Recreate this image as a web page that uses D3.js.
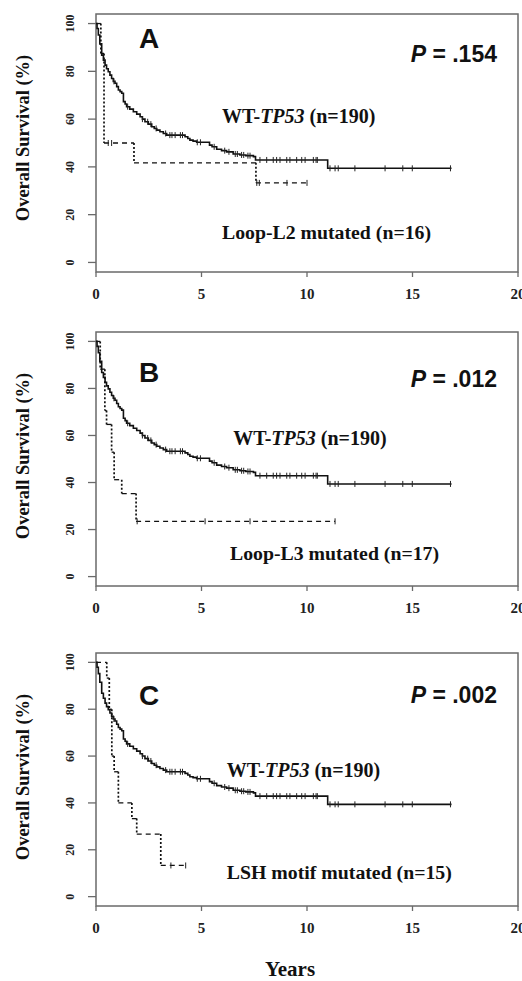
<!DOCTYPE html>
<html>
<head>
<meta charset="utf-8">
<script src="https://cdn.jsdelivr.net/npm/d3@7/dist/d3.min.js"></script>
<style>
  body { margin: 0; background: #fff; }
  .serif { font-family: "Liberation Serif", "Times New Roman", serif; font-weight: bold; }
  .sans { font-family: "Liberation Sans", Arial, sans-serif; font-weight: bold; }
</style>
</head>
<body>
<svg id="chart" width="522" height="981"></svg>
<script>
// WT-TP53 curve (same in the three panels): step times in years, survival in %
var wtTimes = [0, 0.05, 0.11, 0.18, 0.27, 0.35, 0.43, 0.5, 0.58, 0.66, 0.74, 0.82, 0.9, 0.98, 1.06, 1.14, 1.22, 1.3, 1.38, 1.45,
               1.6, 1.77, 1.93, 2.09, 2.2, 2.32, 2.48, 2.64, 2.76, 2.88, 3.03, 3.19, 3.35, 4.22, 4.35, 4.45, 4.6, 4.77, 5.38, 5.5,
               5.72, 5.95, 6.19, 6.5, 6.82, 7.1, 7.46, 7.56, 10.98];
var wtSurv  = [100, 97.9, 95.2, 91.5, 86.8, 84.7, 82.6, 81.1, 79.8, 78.4, 77, 75.8, 75, 73.6, 72.2, 71.5, 70.8, 67.3, 66.3, 65.2,
               64.2, 63.1, 62.1, 61, 60, 58.9, 57.9, 56.8, 56.1, 55.4, 54.7, 54, 53.3, 52.6, 51.9, 51.2, 50.8, 50.3, 49.1, 48.4,
               47.4, 46.8, 46.3, 45.4, 45, 44.7, 44.3, 42.9, 39.4];
var wtEnd = 16.85;
var wtCensor = [0.85, 1.5, 2.2, 2.45, 2.6, 2.85, 3.3, 3.5, 3.6, 3.75, 4.0, 4.1, 4.8, 4.95, 5.6, 6.1, 6.3, 6.6, 6.7, 6.9, 7.0, 7.2, 7.3,
                7.77, 8.09, 8.4, 8.56, 8.72, 9.04, 9.19, 9.51, 9.75, 9.91, 10.3, 10.43, 10.49,
                11.09, 11.33, 11.48, 12.27, 13.7, 14.54, 14.99, 16.8];

// mutated groups
var l2Times = [0, 0.23, 0.38, 1.8, 7.58];
var l2Surv  = [100, 87.5, 50, 41.7, 33.3];
var l2End = 10.0;
var l2Censor = [0.58, 0.74, 7.62, 7.74, 9.05, 10.0];

var l3Times = [0, 0.2, 0.42, 0.5, 0.74, 0.86, 1.22, 1.9];
var l3Surv  = [100, 88.2, 70.6, 64.7, 52.9, 41.2, 35.3, 23.5];
var l3End = 11.33;
var l3Censor = [1.95, 5.17, 7.3, 11.33];

var lshTimes = [0, 0.51, 0.63, 0.75, 0.86, 1.06, 1.7, 1.93, 3.07];
var lshSurv  = [100, 93.3, 80, 60, 53.3, 40, 33.3, 26.7, 13.3];
var lshEnd = 4.25;
var lshCensor = [3.55, 4.25];

var panelLetters = ["A", "B", "C"];
var pValues = [".154", ".012", ".002"];
var mutLabels = ["Loop-L2 mutated (n=16)", "Loop-L3 mutated (n=17)", "LSH motif mutated (n=15)"];
var xTicks = [0, 5, 10, 15, 20];
var yTicks = [0, 20, 40, 60, 80, 100];

var mutGroups = [
    { times: l2Times, surv: l2Surv, end: l2End, censor: l2Censor },
    { times: l3Times, surv: l3Surv, end: l3End, censor: l3Censor },
    { times: lshTimes, surv: lshSurv, end: lshEnd, censor: lshCensor }
];

// layout of each panel (pixels), and where the labels sit (data units)
var panels = [
    { top: 14, bottom: 272, letterY: 34, pY: 48, wtLab: [5.97, 58.3], mutLab: [5.97, 9.9] },
    { top: 332, bottom: 586, letterY: 50, pY: 55, wtLab: [6.5, 56], mutLab: [6.35, 7.1] },
    { top: 653, bottom: 906, letterY: 52, pY: 50, wtLab: [6.2, 51.1], mutLab: [6.2, 7.6] }
];

var svg = d3.select("#chart");
var left = 96, right = 518;
var x = d3.scaleLinear().domain([0, 20]).range([left, right]);

function stepSegments(times, surv, end) {
    var h = [], v = [];
    for (var i = 0; i < times.length; i++) {
        var t1 = i + 1 < times.length ? times[i + 1] : end;
        h.push([[times[i], surv[i]], [t1, surv[i]]]);
        if (i + 1 < times.length) v.push([[t1, surv[i]], [t1, surv[i + 1]]]);
    }
    return { h: h, v: v };
}

function survAt(times, surv, t) {
    var i = d3.bisectRight(times, t) - 1;
    return surv[Math.max(0, i)];
}

panels.forEach(function (p, k) {
    var y = d3.scaleLinear().domain([-4, 104]).range([p.bottom, p.top]);
    var g = svg.append("g");
    var line = d3.line().x(function (d) { return x(d[0]); }).y(function (d) { return y(d[1]); });

    // box
    g.append("rect")
        .attr("x", left).attr("y", p.top)
        .attr("width", right - left).attr("height", p.bottom - p.top)
        .attr("fill", "none").attr("stroke", "#6a6a6a").attr("stroke-width", 1.5);

    // y axis ticks + rotated labels
    g.selectAll("line.yt").data(yTicks).enter().append("line")
        .attr("x1", left - 8).attr("x2", left)
        .attr("y1", function (d) { return y(d); }).attr("y2", function (d) { return y(d); })
        .attr("stroke", "#6a6a6a").attr("stroke-width", 1.3);
    g.selectAll("text.yl").data(yTicks).enter().append("text")
        .attr("class", "serif")
        .attr("transform", function (d) { return "translate(74," + y(d) + ") rotate(-90)"; })
        .attr("text-anchor", "middle")
        .attr("font-size", 12)
        .attr("fill", "#222")
        .text(function (d) { return d; });

    // x axis ticks + labels
    g.selectAll("line.xt").data(xTicks).enter().append("line")
        .attr("x1", function (d) { return x(d); }).attr("x2", function (d) { return x(d); })
        .attr("y1", p.bottom).attr("y2", p.bottom + 5)
        .attr("stroke", "#6a6a6a").attr("stroke-width", 1.3);
    g.selectAll("text.xl").data(xTicks).enter().append("text")
        .attr("class", "serif")
        .attr("x", function (d) { return x(d); })
        .attr("y", p.bottom + 27)
        .attr("text-anchor", "middle")
        .attr("font-size", 15)
        .attr("fill", "#222")
        .text(function (d) { return d; });

    // y title
    g.append("text")
        .attr("class", "serif")
        .attr("transform", "translate(29," + (p.top + 124) + ") rotate(-90)")
        .attr("text-anchor", "middle")
        .attr("font-size", 18.5)
        .attr("fill", "#111")
        .text("Overall Survival (%)");

    // WT curve
    var wtPts = wtTimes.map(function (t, i) { return [t, wtSurv[i]]; });
    wtPts.push([wtEnd, wtSurv[wtSurv.length - 1]]);
    g.append("path").datum(wtPts)
        .attr("d", line.curve(d3.curveStepAfter))
        .attr("fill", "none").attr("stroke", "#111").attr("stroke-width", 1.6);
    g.selectAll("line.wc").data(wtCensor).enter().append("line")
        .attr("x1", function (d) { return x(d); }).attr("x2", function (d) { return x(d); })
        .attr("y1", function (d) { return y(survAt(wtTimes, wtSurv, d)) - 3; })
        .attr("y2", function (d) { return y(survAt(wtTimes, wtSurv, d)) + 3; })
        .attr("stroke", "#222").attr("stroke-width", 1);

    // mutated curve, dashed
    var m = mutGroups[k];
    var segs = stepSegments(m.times, m.surv, m.end);
    var plain = d3.line().x(function (d) { return x(d[0]); }).y(function (d) { return y(d[1]); });
    g.selectAll("path.mh").data(segs.h).enter().append("path")
        .attr("d", plain)
        .attr("fill", "none").attr("stroke", "#111").attr("stroke-width", 1.3)
        .attr("stroke-dasharray", "5,4");
    g.selectAll("path.mv").data(segs.v).enter().append("path")
        .attr("d", plain)
        .attr("fill", "none").attr("stroke", "#111").attr("stroke-width", 1.7)
        .attr("stroke-dasharray", "2,2");
    g.selectAll("line.mc").data(m.censor).enter().append("line")
        .attr("x1", function (d) { return x(d); }).attr("x2", function (d) { return x(d); })
        .attr("y1", function (d) { return y(survAt(m.times, m.surv, d)) - 3; })
        .attr("y2", function (d) { return y(survAt(m.times, m.surv, d)) + 3; })
        .attr("stroke", "#222").attr("stroke-width", 1);

    // panel letter
    g.append("text")
        .attr("class", "sans")
        .attr("x", 149).attr("y", p.top + p.letterY)
        .attr("text-anchor", "middle")
        .attr("font-size", 28)
        .attr("fill", "#111")
        .text(panelLetters[k]);

    // P value
    var pt = g.append("text")
        .attr("class", "sans")
        .attr("x", 497).attr("y", p.top + p.pY)
        .attr("text-anchor", "end")
        .attr("font-size", 23)
        .attr("fill", "#111");
    pt.append("tspan").attr("font-style", "italic").text("P");
    pt.append("tspan").text(" = " + pValues[k]);

    // group labels
    var wt = g.append("text")
        .attr("class", "serif")
        .attr("x", x(p.wtLab[0])).attr("y", y(p.wtLab[1]))
        .attr("font-size", 20)
        .attr("fill", "#111");
    wt.append("tspan").text("WT-");
    wt.append("tspan").attr("font-style", "italic").text("TP53");
    wt.append("tspan").text(" (n=190)");

    g.append("text")
        .attr("class", "serif")
        .attr("x", x(p.mutLab[0])).attr("y", y(p.mutLab[1]))
        .attr("font-size", 19.8)
        .attr("fill", "#111")
        .text(mutLabels[k]);
});

svg.append("text")
    .attr("class", "serif")
    .attr("x", 290).attr("y", 976)
    .attr("text-anchor", "middle")
    .attr("font-size", 21)
    .attr("fill", "#111")
    .text("Years");
</script>
</body>
</html>
